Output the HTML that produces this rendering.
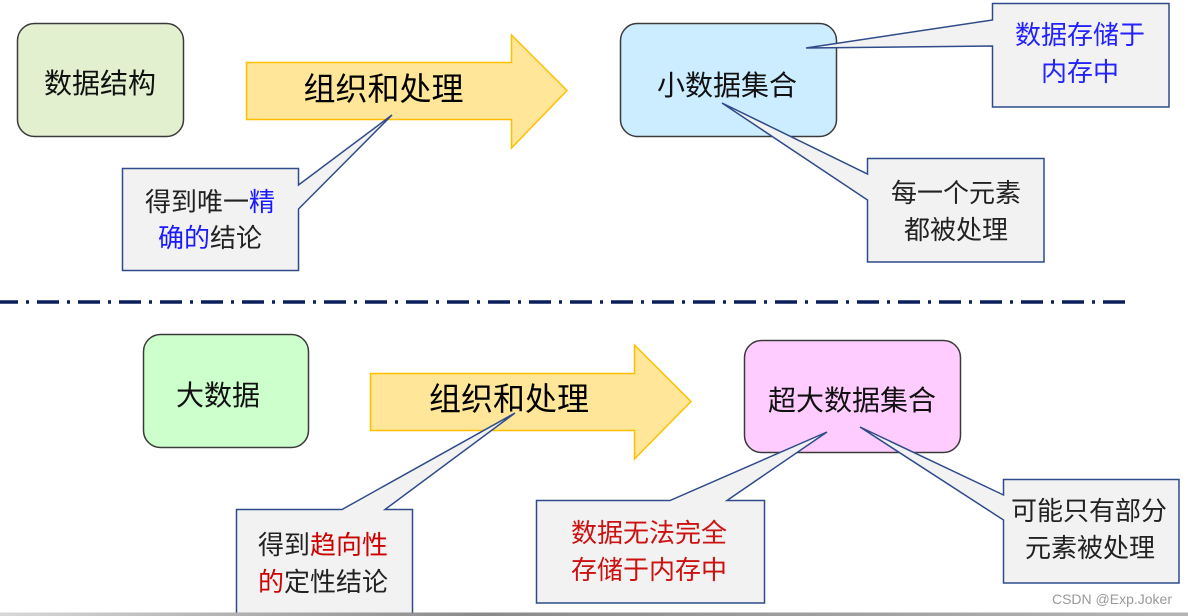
<!DOCTYPE html>
<html>
<head>
<meta charset="utf-8">
<style>
  html,body{margin:0;padding:0;background:#fff;}
  svg{display:block;}
  text{font-family:"Liberation Sans","Noto Sans CJK SC",sans-serif;}
</style>
</head>
<body>
<svg width="1188" height="616" viewBox="0 0 1188 616" xmlns="http://www.w3.org/2000/svg">
  <defs>
    <linearGradient id="bar" x1="0" y1="0" x2="1" y2="0">
      <stop offset="0" stop-color="#d8d8d8"/>
      <stop offset="0.4" stop-color="#8a8a8a"/>
      <stop offset="1" stop-color="#b5b5b5"/>
    </linearGradient>
  </defs>

  <!-- ===== TOP SECTION ===== -->
  <rect x="17.5" y="23.5" width="166" height="113" rx="17" fill="#E2F0D0" stroke="#3a3a3a" stroke-width="1.5"/>
  <text x="100" y="93" font-size="28" text-anchor="middle" fill="#111">数据结构</text>

  <path d="M246.5,62.5 H511.5 V35 L567,90.5 L511.5,148 V119.5 H246.5 Z" fill="#FFE699" stroke="#FFC000" stroke-width="1.5" stroke-linejoin="miter"/>
  <text x="383.5" y="100" font-size="32" text-anchor="middle" fill="#000">组织和处理</text>

  <rect x="620.5" y="23.5" width="216" height="113" rx="17" fill="#CCECFF" stroke="#3a3a3a" stroke-width="1.5"/>
  <text x="727" y="95" font-size="28" text-anchor="middle" fill="#111">小数据集合</text>

  <path d="M122.5,168.5 H298.5 V185 L392,115 L298.5,209 V270.5 H122.5 Z" fill="#F2F2F2" stroke="#2F4B8A" stroke-width="1.5" stroke-linejoin="miter"/>
  <text x="210" y="211" font-size="26" text-anchor="middle" fill="#222">得到唯一<tspan fill="#1a1aff">精</tspan></text>
  <text x="210" y="247" font-size="26" text-anchor="middle" fill="#222"><tspan fill="#1a1aff">确的</tspan>结论</text>

  <path d="M992.5,3.5 H1169 V107 H992.5 V46 L806,48 L992.5,20 Z" fill="#F2F2F2" stroke="#2F4B8A" stroke-width="1.5" stroke-linejoin="miter"/>
  <text x="1080" y="44" font-size="26" text-anchor="middle" fill="#2323ff">数据存储于</text>
  <text x="1080" y="81" font-size="26" text-anchor="middle" fill="#2323ff">内存中</text>

  <path d="M867.5,158.5 H1044 V262 H867.5 V200 L722,103 L867.5,174 Z" fill="#F2F2F2" stroke="#2F4B8A" stroke-width="1.5" stroke-linejoin="miter"/>
  <text x="956" y="202" font-size="26" text-anchor="middle" fill="#222">每一个元素</text>
  <text x="956" y="239" font-size="26" text-anchor="middle" fill="#222">都被处理</text>

  <!-- ===== DIVIDER ===== -->
  <line x1="0" y1="302" x2="1126" y2="302" stroke="#0B1F5C" stroke-width="3.5" stroke-dasharray="22 8 3 8" stroke-dashoffset="-37"/>

  <!-- ===== BOTTOM SECTION ===== -->
  <rect x="143.5" y="334.5" width="165" height="113" rx="17" fill="#CCFFCC" stroke="#3a3a3a" stroke-width="1.5"/>
  <text x="218" y="405" font-size="28" text-anchor="middle" fill="#111">大数据</text>

  <path d="M370.5,373.5 H634.5 V345 L691,401.5 L634.5,459 V430.5 H370.5 Z" fill="#FFE699" stroke="#FFC000" stroke-width="1.5" stroke-linejoin="miter"/>
  <text x="509" y="410" font-size="32" text-anchor="middle" fill="#000">组织和处理</text>

  <rect x="744.5" y="340.5" width="216" height="112" rx="17" fill="#FFCCFF" stroke="#3a3a3a" stroke-width="1.5"/>
  <text x="852" y="410" font-size="28" text-anchor="middle" fill="#111">超大数据集合</text>

  <path d="M236.5,509.5 H342 L515,413 L385,509.5 H412.5 V614 H236.5 Z" fill="#F2F2F2" stroke="#2F4B8A" stroke-width="1.5" stroke-linejoin="miter"/>
  <text x="323" y="554" font-size="26" text-anchor="middle" fill="#222">得到<tspan fill="#cc0000">趋向性</tspan></text>
  <text x="323" y="591" font-size="26" text-anchor="middle" fill="#222"><tspan fill="#cc0000">的</tspan>定性结论</text>

  <path d="M536.5,500.5 H670 L827,432 L727,500.5 H764.5 V603 H536.5 Z" fill="#F2F2F2" stroke="#2F4B8A" stroke-width="1.5" stroke-linejoin="miter"/>
  <text x="649" y="542" font-size="26" text-anchor="middle" fill="#cc1111">数据无法完全</text>
  <text x="649" y="579" font-size="26" text-anchor="middle" fill="#cc1111">存储于内存中</text>

  <path d="M1003.5,479.5 H1179 V583 H1003.5 V520 L860,427 L1003.5,495 Z" fill="#F2F2F2" stroke="#2F4B8A" stroke-width="1.5" stroke-linejoin="miter"/>
  <text x="1089" y="520" font-size="26" text-anchor="middle" fill="#222">可能只有部分</text>
  <text x="1090" y="557" font-size="26" text-anchor="middle" fill="#222">元素被处理</text>

  <text x="1172" y="604" font-size="14" text-anchor="end" fill="#9a9a9a">CSDN @Exp.Joker</text>

  <rect x="0" y="612.5" width="1188" height="3.5" fill="url(#bar)"/>
</svg>
</body>
</html>
